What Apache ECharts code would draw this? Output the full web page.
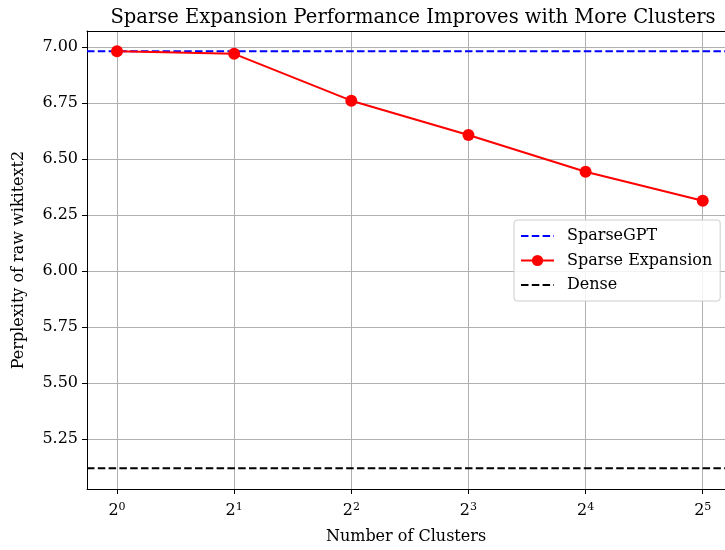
<!DOCTYPE html>
<html>
<head>
<meta charset="utf-8">
<script src="https://cdn.jsdelivr.net/npm/echarts@6/dist/echarts.min.js"></script>
<style>html,body{margin:0;padding:0;background:#fff;}#c{width:725px;height:550px;}</style>
</head>
<body>
<div id="c"></div>
<script>
// ---- data ----
const clusterExponents = [0, 1, 2, 3, 4, 5];
const sparseExpansion = [6.981, 6.969, 6.760, 6.607, 6.443, 6.313];
const sparseGPTValue = 6.981;
const denseValue = 5.120;
const yTickValues = [5.25, 5.50, 5.75, 6.00, 6.25, 6.50, 6.75, 7.00];
const xRange = [-0.256, 5.19];
const yRange = [5.027, 7.071];

const FONT = '"DejaVu Serif", serif';
const FS = 16;
const chart = echarts.init(document.getElementById('c'), null, {renderer: 'canvas'});

const gridLine = {show: true, lineStyle: {color: '#b0b0b0', width: 1}};

chart.setOption({
  animation: false,
  backgroundColor: '#ffffff',
  title: {
    text: 'Sparse Expansion Performance Improves with More Clusters',
    left: 408, top: 3, textAlign: 'center',
    textStyle: {fontFamily: FONT, fontSize: 19.5, fontWeight: 'normal', color: '#000'}
  },
  grid: {left: 87, top: 31, right: 0, bottom: 61, containLabel: false},
  legend: {
    left: 514, top: 220, orient: 'vertical',
    itemWidth: 33, itemHeight: 14, itemGap: 8.5,
    padding: [8, 8, 8, 6],
    backgroundColor: 'rgba(255,255,255,0.85)',
    borderColor: '#cccccc', borderWidth: 1, borderRadius: 3,
    textStyle: {fontFamily: FONT, fontSize: FS, color: '#000', padding: [0, 0, 0, 8]},
    data: [
      {name: 'SparseGPT', itemStyle: {opacity: 0}},
      {name: 'Sparse Expansion'},
      {name: 'Dense', itemStyle: {opacity: 0}}
    ]
  },
  xAxis: [{
    type: 'value', min: xRange[0], max: xRange[1],
    name: 'Number of Clusters', nameLocation: 'middle', nameGap: 40,
    nameTextStyle: {fontFamily: FONT, fontSize: FS, color: '#000'},
    axisLine: {show: true, onZero: false, lineStyle: {color: '#000', width: 1}},
    axisTick: {show: true, length: 5, lineStyle: {color: '#000'}, customValues: clusterExponents},
    axisLabel: {
      customValues: clusterExponents, margin: 13,
      formatter: v => '{b|2}{s|' + Math.round(v) + '}',
      rich: {
        b: {fontFamily: FONT, fontSize: FS, color: '#000'},
        s: {fontFamily: FONT, fontSize: 11, color: '#000', verticalAlign: 'bottom', padding: [0, 0, 6, 0]}
      }
    },
    splitLine: gridLine
  }, {
    type: 'value', position: 'top', min: xRange[0], max: xRange[1],
    axisLine: {show: true, onZero: false, lineStyle: {color: '#000', width: 1}},
    axisTick: {show: false}, axisLabel: {show: false}, splitLine: {show: false}
  }],
  yAxis: {
    type: 'value', min: yRange[0], max: yRange[1],
    name: 'Perplexity of raw wikitext2', nameLocation: 'middle', nameGap: 60,
    nameTextStyle: {fontFamily: FONT, fontSize: FS, color: '#000'},
    axisLine: {show: true, onZero: false, lineStyle: {color: '#000', width: 1}},
    axisTick: {show: true, length: 5, lineStyle: {color: '#000'}, customValues: yTickValues},
    axisLabel: {
      customValues: yTickValues, margin: 9,
      formatter: v => v.toFixed(2),
      fontFamily: FONT, fontSize: FS, color: '#000'
    },
    splitLine: gridLine
  },
  series: [{
    name: 'SparseGPT', type: 'line', symbol: 'none', z: 3,
    data: [[xRange[0], sparseGPTValue], [xRange[1], sparseGPTValue]],
    lineStyle: {color: '#0000ff', width: 2, type: [7.5, 3.3]},
    itemStyle: {color: '#0000ff'}
  }, {
    name: 'Sparse Expansion', type: 'line', symbol: 'circle', symbolSize: 12, z: 4,
    data: clusterExponents.map((x, i) => [x, sparseExpansion[i]]),
    lineStyle: {color: '#ff0000', width: 2},
    itemStyle: {color: '#ff0000'}
  }, {
    name: 'Dense', type: 'line', symbol: 'none', z: 3,
    data: [[xRange[0], denseValue], [xRange[1], denseValue]],
    lineStyle: {color: '#000000', width: 2, type: [7.5, 3.3]},
    itemStyle: {color: '#000000'}
  }]
});
</script>
</body>
</html>
